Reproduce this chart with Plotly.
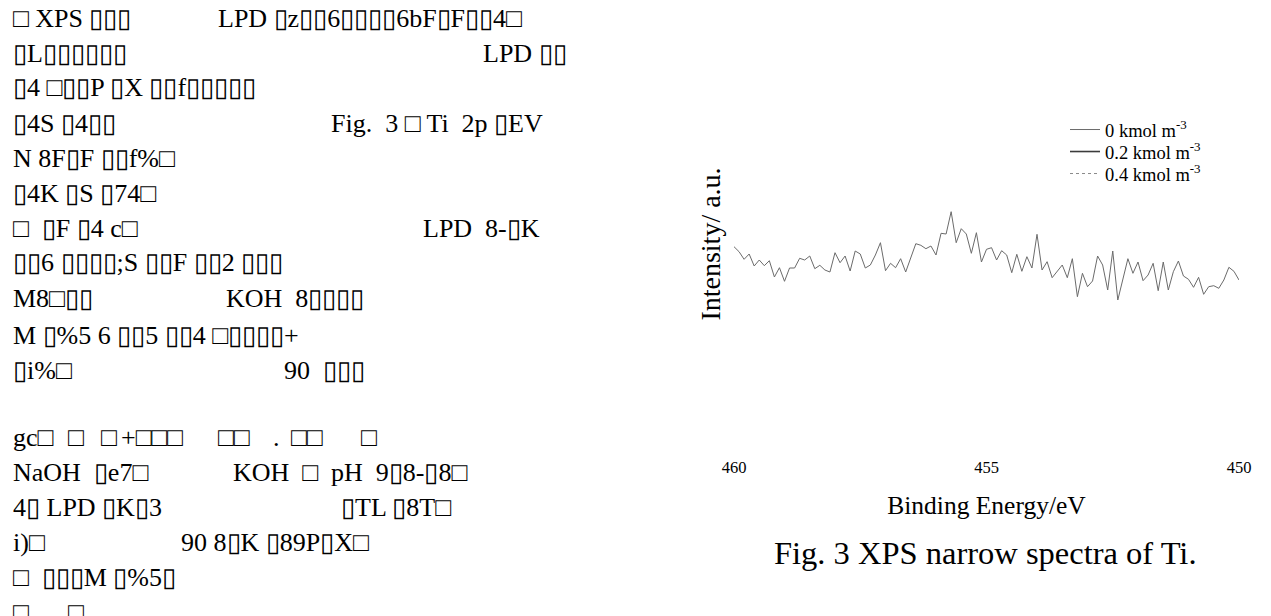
import plotly.graph_objects as go

# ---------------- data ----------------
binding_energy_ev = [
    460.0, 459.9, 459.8, 459.7, 459.6, 459.5, 459.4, 459.3, 459.2, 459.1,
    459.0, 458.9, 458.8, 458.7, 458.6, 458.5, 458.4, 458.3, 458.2, 458.1,
    458.0, 457.9, 457.8, 457.7, 457.6, 457.5, 457.4, 457.3, 457.2, 457.1,
    457.0, 456.9, 456.8, 456.7, 456.6, 456.5, 456.4, 456.3, 456.2, 456.1,
    456.0, 455.9, 455.8, 455.7, 455.6, 455.5, 455.4, 455.3, 455.2, 455.1,
    455.0, 454.9, 454.8, 454.7, 454.6, 454.5, 454.4, 454.3, 454.2, 454.1,
    454.0, 453.9, 453.8, 453.7, 453.6, 453.5, 453.4, 453.3, 453.2, 453.1,
    453.0, 452.9, 452.8, 452.7, 452.6, 452.5, 452.4, 452.3, 452.2, 452.1,
    452.0, 451.9, 451.8, 451.7, 451.6, 451.5, 451.4, 451.3, 451.2, 451.1,
    451.0, 450.9, 450.8, 450.7, 450.6, 450.5, 450.4, 450.3, 450.2, 450.1,
    450.0,
]

intensity_0 = [
    83.3, 78.3, 70.7, 76.0, 64.0, 70.0, 64.3, 69.3, 53.0, 62.3,
    48.7, 62.0, 62.0, 71.7, 70.0, 74.0, 61.3, 64.7, 60.0, 58.0,
    77.3, 67.3, 74.0, 59.0, 79.0, 76.0, 62.0, 65.0, 75.0, 87.3,
    59.3, 66.7, 62.3, 71.3, 58.0, 73.3, 86.3, 84.7, 81.3, 84.0,
    75.0, 96.7, 96.0, 118.3, 87.3, 101.3, 96.0, 76.7, 97.3, 68.0,
    80.7, 82.3, 70.0, 79.3, 75.0, 57.3, 75.7, 58.7, 73.3, 62.0,
    95.7, 60.0, 68.3, 52.3, 58.3, 65.0, 52.3, 71.3, 33.3, 56.7,
    43.3, 49.0, 74.0, 65.0, 40.0, 79.0, 30.0, 50.0, 71.3, 56.7,
    68.0, 49.3, 55.0, 66.7, 39.3, 68.0, 40.0, 58.3, 69.0, 54.0,
    50.7, 42.7, 52.7, 35.7, 43.3, 44.3, 41.7, 50.0, 62.7, 58.7,
    50.0,
]

series_names = [
    "0 kmol m<sup>-3</sup>",
    "0.2 kmol m<sup>-3</sup>",
    "0.4 kmol m<sup>-3</sup>",
]

x_ticks = [460, 455, 450]

# surrounding page text (glyph-missing text as in the source page)
page_text = [
    (12, 18, "□ XPS ▯▯▯"), (217, 18, "LPD ▯z▯▯6▯▯▯▯6bF▯F▯▯4□"),
    (12, 53, "▯L▯▯▯▯▯▯"), (482, 53, "LPD ▯▯"),
    (12, 88, "▯4 □▯▯P ▯X ▯▯f▯▯▯▯▯"),
    (12, 123, "▯4S ▯4▯▯"), (330, 123, "Fig.  3 □ Ti  2p ▯EV"),
    (12, 158, "N 8F▯F ▯▯f%□"),
    (12, 193, "▯4K ▯S ▯74□"),
    (12, 228, "□  ▯F ▯4 c□"), (422, 228, "LPD  8-▯K"),
    (12, 263, "▯▯6 ▯▯▯▯;S ▯▯F ▯▯2 ▯▯▯"),
    (12, 298, "M8□▯▯"), (225, 298, "KOH  8▯▯▯▯"),
    (12, 335, "M ▯%5 6 ▯▯5 ▯▯4 □▯▯▯▯+"),
    (12, 370, "▯i%□"), (283, 370, "90  ▯▯▯"),
    (12, 437, "gc□"), (67, 437, "□"), (100, 437, "□"), (120, 437, "+□□□"),
    (217, 437, "□□"), (272, 437, "."), (290, 437, "□□"), (360, 437, "□"),
    (12, 472, "NaOH  ▯e7□"), (232, 472, "KOH  □  pH  9▯8-▯8□"),
    (12, 507, "4▯ LPD ▯K▯3"), (340, 507, "▯TL ▯8T□"),
    (12, 542, "i)□"), (180, 542, "90 8▯K ▯89P▯X□"),
    (12, 577, "□  ▯▯▯M ▯%5▯"),
    (12, 612, "□"), (67, 612, "□"),
]

# the page is offset by the browser's default body margin
OFF = 8
W, H = 1271 - OFF, 616 - OFF
SERIF = "Liberation Serif, Times New Roman, serif"


def px_x(px):
    return (px - OFF) / W


def px_y(py):
    return 1 - (py - OFF) / H


line_styles = [
    dict(color="#6b6b6b", width=1),
    dict(color="#3c3c3c", width=1.6),
    dict(color="#8a8a8a", width=1, dash="dot"),
]
legend_ids = ["legend", "legend2", "legend3"]
legend_rows_px = [130, 152, 174]

fig = go.Figure()

fig.add_trace(go.Scatter(
    x=binding_energy_ev, y=intensity_0, mode="lines",
    name=series_names[0], legend=legend_ids[0], line=line_styles[0],
))
for i in (1, 2):
    fig.add_trace(go.Scatter(
        x=[None], y=[None], mode="lines", name=series_names[i],
        legend=legend_ids[i], line=line_styles[i],
    ))

annotations = []
for px, py, txt in page_text:
    annotations.append(dict(
        x=px_x(px), y=px_y(py), xref="paper", yref="paper",
        xanchor="left", yanchor="middle", align="left", showarrow=False,
        borderpad=0,
        text=txt, font=dict(family=SERIF, size=26, color="black"),
    ))

annotations.append(dict(
    x=px_x(985), y=px_y(553), xref="paper", yref="paper",
    xanchor="center", yanchor="middle", showarrow=False,
    text="Fig. 3 XPS narrow spectra of Ti.",
    font=dict(family=SERIF, size=32.5, color="black"),
))

legend_layouts = {}
for lid, row in zip(legend_ids, legend_rows_px):
    legend_layouts[lid] = dict(
        x=px_x(1065), y=px_y(row), xanchor="left", yanchor="middle",
        font=dict(family=SERIF, size=18.5, color="black"),
        bgcolor="rgba(0,0,0,0)",
    )

x0_px, x1_px = 734, 1239
y_top_px, y_bot_px = 33, 455

fig.update_layout(
    width=W, height=H,
    margin=dict(l=0, r=0, t=0, b=0, pad=0, autoexpand=False),
    paper_bgcolor="white", plot_bgcolor="white",
    showlegend=True,
    xaxis=dict(
        domain=[px_x(x0_px), px_x(x1_px)],
        range=[460, 450], automargin=False,
        tickvals=x_ticks, ticktext=[str(t) for t in x_ticks],
        showline=False, showgrid=False, zeroline=False, ticks="",
        tickfont=dict(family=SERIF, size=16.5, color="black"),
        title=dict(text="Binding Energy/eV", standoff=20,
                   font=dict(family=SERIF, size=25.5, color="black")),
    ),
    yaxis=dict(
        domain=[px_y(y_bot_px), px_y(y_top_px)],
        range=[330 - y_bot_px, 330 - y_top_px], automargin=False,
        showticklabels=False, showline=False, showgrid=False,
        zeroline=False, ticks="",
        title=dict(text="Intensity/ a.u.", standoff=4,
                   font=dict(family=SERIF, size=28, color="black")),
    ),
    annotations=annotations,
    **legend_layouts,
)

fig.write_html("out.html")
